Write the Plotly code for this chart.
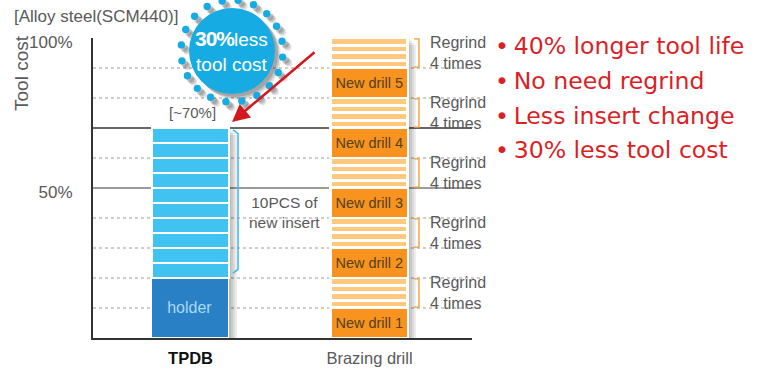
import numpy as np
import plotly.graph_objects as go

# ---- data -------------------------------------------------------------
categories = ["TPDB", "Brazing drill"]
holder_cost = 20            # % of reference tool cost
insert_cost = 5             # % per insert
insert_count = 10
drill_labels = ["New drill 1", "New drill 2", "New drill 3", "New drill 4", "New drill 5"]
drill_cost = 10             # % per new brazed drill
regrind_cost = 2.5          # % per regrind
regrinds_per_drill = 4
regrind_label = "Regrind<br>4 times"
tpdb_total_label = "[~70%]"
insert_note = "10PCS of<br>new insert"
benefits = ["40% longer tool life", "No need regrind", "Less insert change", "30% less tool cost"]
dotted_levels = [10, 20, 30, 40, 60, 80, 90]
solid_levels = [50, 70]
y_tick_vals = [50, 100]
y_tick_text = ["50%", "100%"]

# ---- styling ----------------------------------------------------------
W, H = 761, 368
L, R, T, B = 93, 472, 38, 338          # plot area in pixels
X_MIN, X_MAX = -0.5447, 1.5726
BAR_W = 0.43
GRAY = "#595959"
RED = "#DA1F26"
CYAN = "#17ABE3"
FONT = "Liberation Sans, Arial, sans-serif"


def px(x, y):
    """pixel position -> paper coordinates"""
    return (x - L) / (R - L), (B - y) / (B - T)


def xunits(p):
    """pixel length -> x data units"""
    return p * (X_MAX - X_MIN) / (R - L)


fig = go.Figure()

# TPDB: holder + inserts
fig.add_trace(go.Bar(
    x=[0], y=[holder_cost], width=BAR_W, marker=dict(color="#2A80C4", line=dict(color="white", width=1.5)),
    text=["holder"], textposition="inside", insidetextanchor="middle", constraintext="none",
    textfont=dict(color="#A9D9F6", size=16, family=FONT), hoverinfo="skip"))
for i in range(insert_count):
    fig.add_trace(go.Bar(
        x=[0], y=[insert_cost], width=BAR_W,
        marker=dict(color="#41C3F2", line=dict(color="white", width=2)), hoverinfo="skip"))

# Brazing drill: new drill followed by regrinds
for lab in drill_labels:
    fig.add_trace(go.Bar(
        x=[1], y=[drill_cost], width=BAR_W,
        marker=dict(color="#F7931E", line=dict(color="white", width=2.5)),
        text=[lab], textposition="inside", insidetextanchor="middle", constraintext="none",
        textfont=dict(color="#56401F", size=14.5, family=FONT), hoverinfo="skip"))
    for k in range(regrinds_per_drill):
        fig.add_trace(go.Bar(
            x=[1], y=[regrind_cost], width=BAR_W,
            marker=dict(color="#FEC97D", line=dict(color="white", width=3.2)), hoverinfo="skip"))

shapes = []
# grid lines
for lv in dotted_levels:
    shapes.append(dict(type="line", xref="paper", yref="y", x0=0, x1=1.03, y0=lv, y1=lv,
                       line=dict(color="#9a9a9a", width=1, dash="dot"), layer="below"))
shapes.append(dict(type="line", xref="paper", yref="y", x0=0, x1=1.0, y0=solid_levels[0], y1=solid_levels[0],
                   line=dict(color="#7a7a7a", width=1.5), layer="below"))
shapes.append(dict(type="line", xref="paper", yref="y", x0=0, x1=1.0, y0=solid_levels[1], y1=solid_levels[1],
                   line=dict(color="#333333", width=1.5), layer="below"))

# soft drop shadows behind the stacks
tpdb_total = holder_cost + insert_cost * insert_count
braz_total = len(drill_labels) * (drill_cost + regrind_cost * regrinds_per_drill)
for cx, top in [(0, tpdb_total), (1, braz_total)]:
    for off in (2, 4, 6, 8):
        shapes.append(dict(type="rect", xref="x", yref="y",
                           x0=cx - BAR_W / 2 + xunits(off), x1=cx + BAR_W / 2 + xunits(off),
                           y0=-off / 3.0, y1=top - off / 3.0 + 0.3,
                           fillcolor="rgba(0,0,0,0.075)", line=dict(width=0), layer="below"))

# bracket beside the inserts
bx0, _ = px(233, 0)
bx1, _ = px(238, 0)
ytop, ybot = tpdb_total - 0.6, holder_cost + 1.6
shapes.append(dict(type="path", xref="paper", yref="y",
                   path=f"M {bx0},{ytop} L {bx1},{ytop - 1.3} L {bx1},{ybot + 1.3} L {bx0},{ybot}",
                   line=dict(color="#3DB6EA", width=1.5)))

# brackets beside each regrind block
ox0, _ = px(414, 0)
ox1, _ = px(419, 0)
annotations = []
for n in range(len(drill_labels)):
    lo = n * (drill_cost + regrind_cost * regrinds_per_drill) + drill_cost
    hi = lo + regrind_cost * regrinds_per_drill
    shapes.append(dict(type="path", xref="paper", yref="y",
                       path=f"M {ox0},{hi - 0.3} L {ox1},{hi - 0.3} L {ox1},{lo + 0.3} L {ox0},{lo + 0.3}",
                       line=dict(color="#F39A2E", width=1.3)))
    rx, _ = px(458, 0)
    annotations.append(dict(xref="paper", yref="y", x=rx, y=(lo + hi) / 2, text=regrind_label,
                            showarrow=False, font=dict(size=16, color=GRAY, family=FONT),
                            align="left", xanchor="center", yanchor="middle"))

# "30% less tool cost" badge
cxp, cyp = 232, 51
def circle(x, y, r, color, layer="above"):
    x0, y0 = px(x - r, y + r)
    x1, y1 = px(x + r, y - r)
    return dict(type="circle", xref="paper", yref="paper", x0=x0, y0=y0, x1=x1, y1=y1,
                fillcolor=color, line=dict(width=0), layer=layer)

angles = np.linspace(0, 2 * np.pi, 20, endpoint=False) + 0.12
for sh_off, alpha in [(6, 0.10), (4.5, 0.14), (3, 0.16)]:
    shapes.append(circle(cxp + sh_off, cyp + sh_off, 43, f"rgba(0,0,0,{alpha})"))
    for a in angles:
        shapes.append(circle(cxp + 51 * np.cos(a) + sh_off, cyp + 51 * np.sin(a) + sh_off, 3.7,
                             f"rgba(0,0,0,{alpha})"))
shapes.append(circle(cxp, cyp, 43, CYAN))
for a in angles:
    shapes.append(circle(cxp + 51 * np.cos(a), cyp + 51 * np.sin(a), 3.7, CYAN))

bx, by = px(cxp - 1, cyp)
annotations.append(dict(xref="paper", yref="paper", x=bx, y=by,
                        text="<b><span style='font-size:21px;letter-spacing:-1px'>30%</span></b>less<br>tool cost",
                        showarrow=False, font=dict(size=19, color="white", family=FONT),
                        align="center", xanchor="center", yanchor="middle"))

# red arrow to the TPDB total
tx, ty = px(232, 122)
annotations.append(dict(xref="paper", yref="paper", x=tx, y=ty, ax=84, ay=-71, text="",
                        showarrow=True, arrowhead=2, arrowsize=1.4, arrowwidth=2.5, arrowcolor="#D3171E"))

# text labels
def label(x, y, text, size, color=GRAY, anchor="center", family=FONT, **kw):
    xp, yp = px(x, y)
    annotations.append(dict(xref="paper", yref="paper", x=xp, y=yp, text=text, showarrow=False,
                            font=dict(size=size, color=color, family=family),
                            xanchor=anchor, yanchor="middle", **kw))

label(192, 112, tpdb_total_label, 15)
label(284, 212, insert_note, 15.5, align="center")
label(12, 16, "[Alloy steel(SCM440)]", 17, anchor="left")
label(21, 73, "Tool cost", 19, textangle=-90)
for i, b in enumerate(benefits):
    label(493, 46 + 34.8 * i, "•" + "\u2009" + b, 23.6, color=RED, anchor="left",
          family="DejaVu Sans, Verdana, sans-serif")

fig.update_layout(
    width=W, height=H, barmode="stack", bargap=0, showlegend=False,
    margin=dict(l=L, r=W - R, t=T, b=H - B, autoexpand=False),
    paper_bgcolor="white", plot_bgcolor="white",
    font=dict(family=FONT, color=GRAY),
    shapes=shapes, annotations=annotations,
    xaxis=dict(range=[X_MIN, X_MAX], tickvals=[0, 1],
               ticktext=["<b><span style='color:#111'>" + categories[0] + "</span></b>", categories[1]],
               tickfont=dict(size=16.5, color=GRAY, family=FONT), automargin=False,
               showgrid=False, zeroline=False, showline=True, linecolor="#333", linewidth=2,
               ticks="", ticklabelstandoff=4, fixedrange=True),
    yaxis=dict(range=[0, 100], tickvals=y_tick_vals, ticktext=y_tick_text,
               tickfont=dict(size=17, color=GRAY, family=FONT), automargin=False,
               showgrid=False, zeroline=False, showline=True, linecolor="#333", linewidth=2,
               ticks="", ticklabelstandoff=15, ticklabelshift=4, fixedrange=True),
)

fig.write_html("out.html", config={"displayModeBar": False})
